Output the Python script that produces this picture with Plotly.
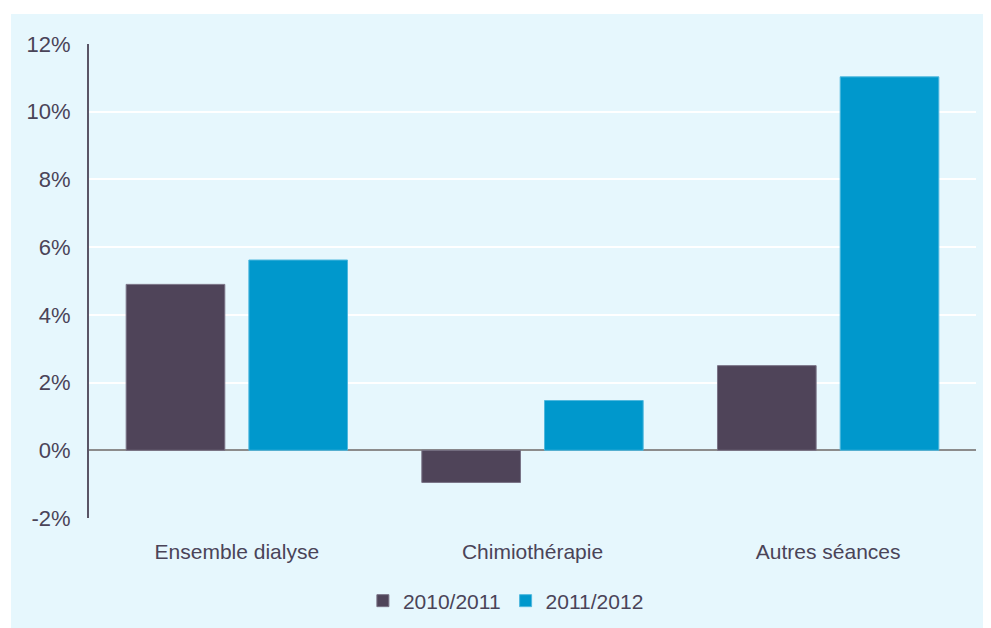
import plotly.graph_objects as go

categories = ["Ensemble dialyse", "Chimiothérapie", "Autres séances"]
series_names = ["2010/2011", "2011/2012"]
values_2010_2011 = [4.9, -0.95, 2.5]
values_2011_2012 = [5.62, 1.47, 11.03]
y_tickvals = [-2, 0, 2, 4, 6, 8, 10, 12]
y_ticktext = ["-2%", "0%", "2%", "4%", "6%", "8%", "10%", "12%"]
colors = ["#4F4459", "#0098CC"]
line_colors = ["#7A7386", "#4FB8DE"]

fig = go.Figure()
for name, vals, c, lc in zip(series_names, [values_2010_2011, values_2011_2012], colors, line_colors):
    fig.add_trace(go.Bar(x=categories, y=vals, name=name,
                         marker=dict(color=c, line=dict(color=lc, width=1))))

font_color = "#4A4458"
# page body has an 8px margin; compensate
W, H = 983, 620
l, r, t, b = 81, 15, 36, 110
pw, ph = W - l - r, H - t - b
fig.add_shape(type="rect", xref="paper", yref="paper", layer="below",
              x0=(3 - l) / pw, x1=(W - l) / pw + 0.02,
              y0=-(H - t - ph) / ph - 0.02, y1=1 + (t - 6) / ph,
              fillcolor="#E6F7FD", line=dict(width=0))

fig.update_layout(
    width=W, height=H,
    margin=dict(l=l, r=r, t=t, b=b),
    paper_bgcolor="white", plot_bgcolor="rgba(0,0,0,0)",
    barmode="group", bargap=0.17, bargroupgap=0.196,
    font=dict(family="Liberation Sans, Arial, sans-serif", size=21, color=font_color),
    showlegend=True,
    legend=dict(orientation="h", x=0.47, xanchor="center",
                yref="container", y=1 - 593 / 620, yanchor="middle",
                bgcolor="rgba(0,0,0,0)", font=dict(size=21, color=font_color),
                itemwidth=30, traceorder="normal"),
)
fig.update_yaxes(range=[-2, 12], tickmode="array", tickvals=y_tickvals, ticktext=y_ticktext,
                 showgrid=True, gridcolor="white",
                 gridwidth=1.5, zeroline=True, zerolinecolor="#8C8C8C", zerolinewidth=1.5,
                 showline=True, linecolor="#5A5566", linewidth=2,
                 ticks="outside", ticklen=12, tickcolor="rgba(0,0,0,0)",
                 tickfont=dict(size=22, color=font_color))
fig.update_xaxes(showline=False, showgrid=False, ticks="outside", ticklen=15,
                 tickcolor="rgba(0,0,0,0)", tickfont=dict(size=21, color=font_color))

fig.write_html("out.html")
